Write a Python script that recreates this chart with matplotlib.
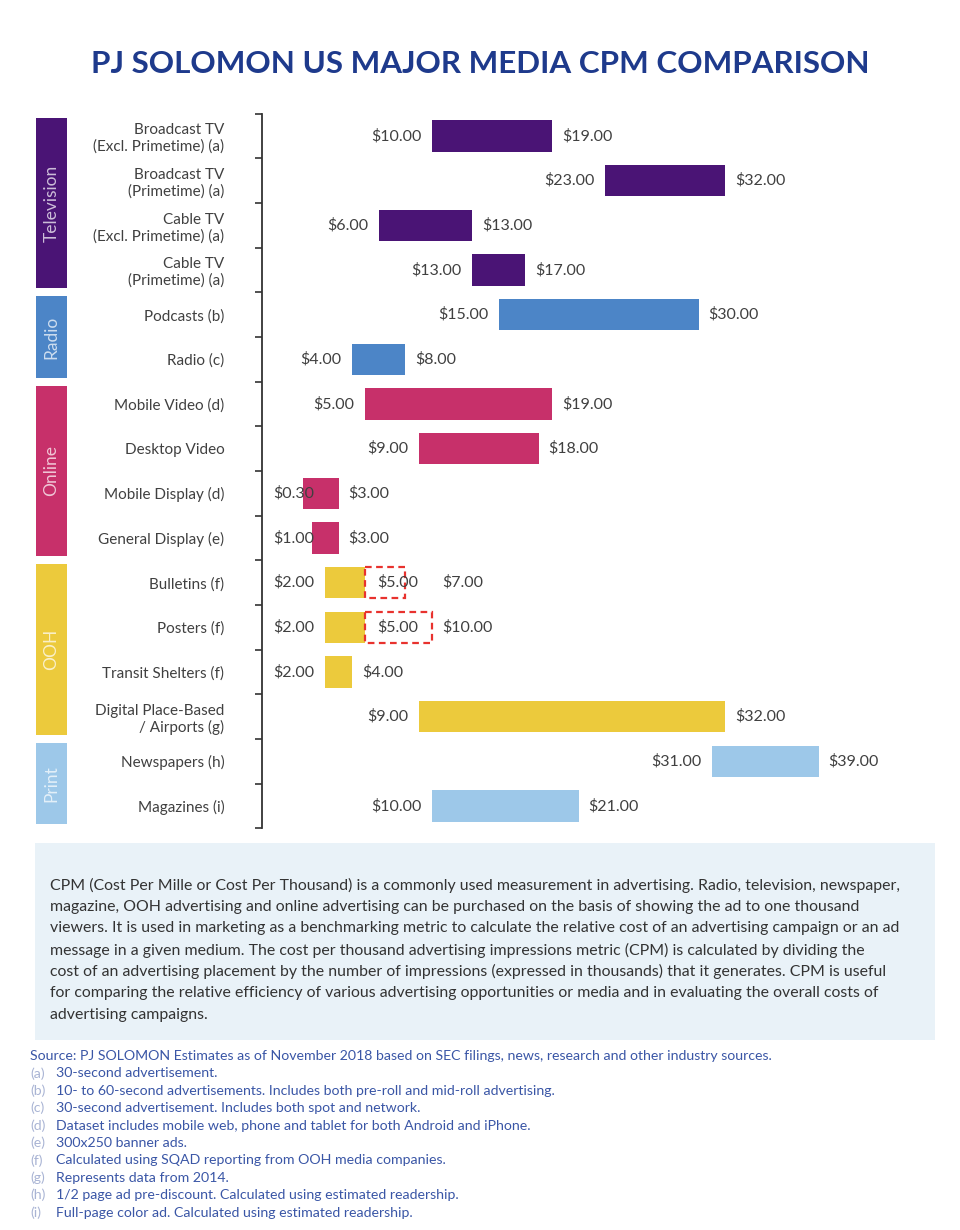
import numpy as np
import matplotlib
matplotlib.use("Agg")
import matplotlib.pyplot as plt
from matplotlib.patches import Rectangle
from matplotlib.transforms import blended_transform_factory

# data
categories = [
    "Broadcast TV\n(Excl. Primetime) (a)",
    "Broadcast TV\n(Primetime) (a)",
    "Cable TV\n(Excl. Primetime) (a)",
    "Cable TV\n(Primetime) (a)",
    "Podcasts (b)",
    "Radio (c)",
    "Mobile Video (d)",
    "Desktop Video",
    "Mobile Display (d)",
    "General Display (e)",
    "Bulletins (f)",
    "Posters (f)",
    "Transit Shelters (f)",
    "Digital Place-Based\n/ Airports (g)",
    "Newspapers (h)",
    "Magazines (i)",
]
cpm_low = [10, 23, 6, 13, 15, 4, 5, 9, 0.30, 1, 2, 2, 2, 9, 31, 10]
cpm_high = [19, 32, 13, 17, 30, 8, 19, 18, 3, 3, 7, 10, 4, 32, 39, 21]

# OOH rows with a dashed (highlighted) segment
dashed_rows = ["Bulletins (f)", "Posters (f)"]
dashed_start = [5, 5]
dashed_end = [8, 10]

groups = ["Television", "Radio", "Online", "OOH", "Print"]
group_sizes = [4, 2, 4, 4, 2]
group_colors = ["#4A1475", "#4C85C7", "#C7306A", "#ECCA3C", "#9DC8E9"]

title = "PJ SOLOMON US MAJOR MEDIA CPM COMPARISON"

note_lines = [
    "CPM (Cost Per Mille or Cost Per Thousand) is a commonly used measurement in advertising. Radio, television, newspaper,",
    "magazine, OOH advertising and online advertising can be purchased on the basis of showing the ad to one thousand",
    "viewers. It is used in marketing as a benchmarking metric to calculate the relative cost of an advertising campaign or an ad",
    "message in a given medium. The cost per thousand advertising impressions metric (CPM) is calculated by dividing the",
    "cost of an advertising placement by the number of impressions (expressed in thousands) that it generates. CPM is useful",
    "for comparing the relative efficiency of various advertising opportunities or media and in evaluating the overall costs of",
    "advertising campaigns.",
]

source_text = "Source: PJ SOLOMON Estimates as of November 2018 based on SEC filings, news, research and other industry sources."
footnote_keys = ["(a)", "(b)", "(c)", "(d)", "(e)", "(f)", "(g)", "(h)", "(i)"]
footnote_texts = [
    "30-second advertisement.",
    "10- to 60-second advertisements. Includes both pre-roll and mid-roll advertising.",
    "30-second advertisement. Includes both spot and network.",
    "Dataset includes mobile web, phone and tablet for both Android and iPhone.",
    "300x250 banner ads.",
    "Calculated using SQAD reporting from OOH media companies.",
    "Represents data from 2014.",
    "1/2 page ad pre-discount. Calculated using estimated readership.",
    "Full-page color ad. Calculated using estimated readership.",
]

plt.rcParams["font.family"] = ["Lato", "DejaVu Sans"]
TXT = "#404040"
W, H = 960, 1230

fig = plt.figure(figsize=(W / 100, H / 100), dpi=100)
fig.patch.set_facecolor("white")

ax = fig.add_axes([262 / W, 1 - 828.3 / H, (900 - 262) / W, (828.3 - 113.7) / H])
ax.set_xlim(-2.753, 45.1)
ax.set_ylim(len(categories) - 0.5, -0.5)
for s in ["top", "right", "bottom"]:
    ax.spines[s].set_visible(False)
ax.spines["left"].set_color("#333333")
ax.spines["left"].set_linewidth(1.3)
ax.set_xticks([])

y = np.arange(len(categories))
ax.set_yticks(y)
ax.set_yticklabels(categories, fontsize=11, color=TXT)
ax.tick_params(axis="y", which="major", length=0, pad=27)
ax.set_yticks(np.arange(len(categories) + 1) - 0.5, minor=True)
ax.tick_params(axis="y", which="minor", length=5, width=1.2, color="#333333", direction="out")

# colour per row from the groups
row_colors = []
for c, n in zip(group_colors, group_sizes):
    row_colors += [c] * n

solid_end = list(cpm_high)
for name, ds in zip(dashed_rows, dashed_start):
    solid_end[categories.index(name)] = ds

ax.barh(y, np.array(solid_end) - np.array(cpm_low), left=cpm_low, height=0.7,
        color=row_colors, edgecolor="none")

label_kw = dict(fontsize=11.5, color=TXT, va="center")
for i in range(len(categories)):
    ax.text(max(cpm_low[i] - 0.8, 1.15), i, f"${cpm_low[i]:.2f}", ha="right", **label_kw)
    if categories[i] in dashed_rows:
        continue
    ax.text(cpm_high[i] + 0.75, i, f"${cpm_high[i]:.2f}", ha="left", **label_kw)

# dashed highlight boxes
for name, ds, de in zip(dashed_rows, dashed_start, dashed_end):
    i = categories.index(name)
    ax.add_patch(Rectangle((ds, i - 0.35), de - ds, 0.7, fill=False,
                           edgecolor="#E8322E", linestyle=(0, (3, 2)), linewidth=1.6))
    ax.text(ds + 0.87, i, f"${ds:.2f}", ha="left", **label_kw)
    ax.text(max(dashed_end) + 0.75, i, f"${cpm_high[i]:.2f}", ha="left", **label_kw)

# group side bars
tr = blended_transform_factory(fig.transFigure, ax.transData)
start = -0.5
for g, n, c in zip(groups, group_sizes, group_colors):
    ax.add_patch(Rectangle((36 / W, start + 0.09), 31 / W, n - 0.18, transform=tr,
                           facecolor=c, edgecolor="none", clip_on=False))
    ax.text(51.5 / W, start + n / 2, g, transform=tr, rotation=90, ha="center", va="center",
            fontsize=12.5, color="white", alpha=0.72)
    start += n

fig.text(0.5, 1 - 64 / H, title, ha="center", va="center", fontsize=22.6,
         fontweight="bold", color="#1E3A8C")

# note box
fig.patches.append(Rectangle((35 / W, 1 - 1040 / H), 900 / W, 197 / H, transform=fig.transFigure,
                             facecolor="#E9F2F8", edgecolor="none", zorder=0))
for k, line in enumerate(note_lines):
    fig.text(50 / W, 1 - (885 + 21.7 * k) / H, line, ha="left", va="center",
             fontsize=11.4, color="#333333")

# source and footnotes
fig.text(30 / W, 1 - 1056 / H, source_text, ha="left", va="center", fontsize=10.2, color="#3A56A6")
for k, (key, txt) in enumerate(zip(footnote_keys, footnote_texts)):
    yy = 1 - (1056 + 17.4 * (k + 1)) / H
    fig.text(30 / W, yy, key, ha="left", va="center", fontsize=10.2, color="#A9B4D4")
    fig.text(56 / W, yy, txt, ha="left", va="center", fontsize=10.2, color="#3A56A6")

fig.savefig("out.png", dpi=100, facecolor="white")
